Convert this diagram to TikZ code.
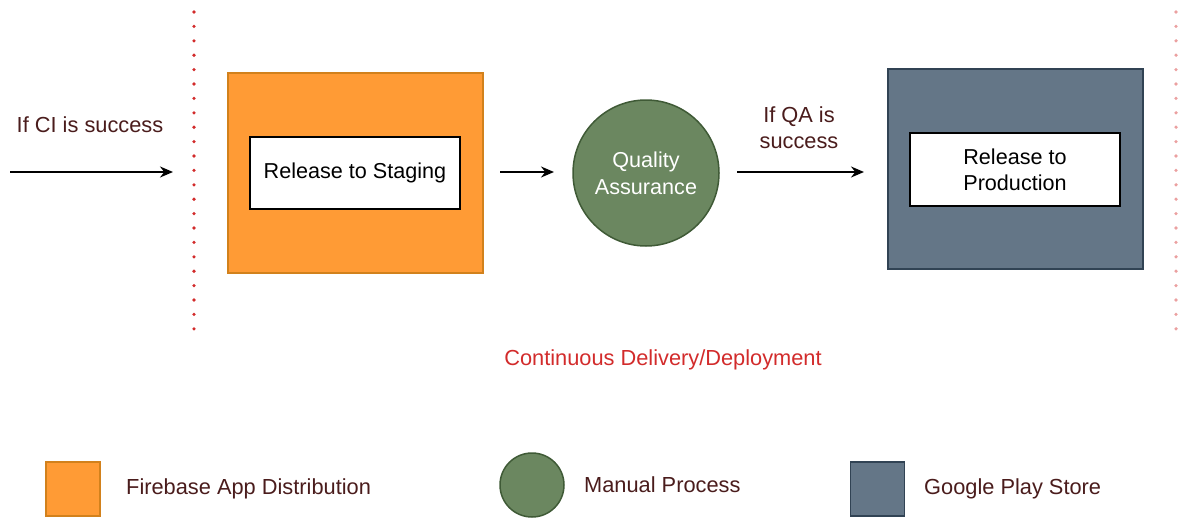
\documentclass[tikz,border=0pt]{standalone}
\usepackage{fontspec}
\setmainfont{Liberation Sans}
\usetikzlibrary{arrows.meta}
\definecolor{orfill}{HTML}{FF9B35}
\definecolor{ordraw}{HTML}{D2811C}
\definecolor{grfill}{HTML}{6B8760}
\definecolor{grdraw}{HTML}{3F5A36}
\definecolor{blfill}{HTML}{647687}
\definecolor{bldraw}{HTML}{314354}
\definecolor{lbl}{HTML}{4A1C1C}
\definecolor{sepred}{HTML}{D22B2B}
\begin{document}
\begin{tikzpicture}[x=1pt,y=-1pt,
  txt/.style={font=\fontsize{21.8}{26}\selectfont, text=lbl, align=center, inner sep=0pt},
  outerbox/.style={line width=1.5pt, inner sep=0pt},
  innerbox/.style={draw=black, fill=white, line width=2pt, inner sep=0pt, font=\fontsize{21.6}{26}\selectfont, align=center},
  arr/.style={-{Stealth[length=13pt,width=11pt]}, line width=1.6pt},
  sep/.style={line width=3.6pt, line cap=round, dash pattern=on 0pt off 14.4pt}]
\useasboundingbox (0,0) rectangle (1178,517);
% separators
\coordinate (s1a) at (194,12); \coordinate (s1b) at (194,335);
\coordinate (s2a) at (1176,12); \coordinate (s2b) at (1176,335);
\draw[sep, sepred] (s1a) -- (s1b);
\draw[sep, sepred!45] (s2a) -- (s2b);
% boxes
\node[outerbox, draw=ordraw, fill=orfill, minimum width=255pt, minimum height=200pt] (fb) at (355.5,173) {};
\node[innerbox, minimum width=210pt, minimum height=72pt] (stg) at (355,173) {Release to Staging};
\node[circle, draw=grdraw, fill=grfill, line width=1.5pt, minimum size=146pt, inner sep=0pt,
  font=\fontsize{21.6}{27}\selectfont, text=white, align=center] (qa) at (646,173) {Quality\\Assurance};
\node[outerbox, draw=bldraw, fill=blfill, minimum width=255pt, minimum height=200pt] (gp) at (1015.5,169) {};
\node[innerbox, minimum width=210pt, minimum height=73pt] (prd) at (1015,169.5) {Release to\\Production};
% arrows
\coordinate (a1s) at (10,172); \coordinate (a1e) at (173,172);
\draw[arr] (a1s) -- (a1e);
\node[txt] (l1) at (90,125) {If CI is success};
\coordinate (a2s) at (500,172); \coordinate (a2e) at (554,172);
\draw[arr] (a2s) -- (a2e);
\coordinate (a3s) at (737,172); \coordinate (a3e) at (864,172);
\draw[arr] (a3s) -- (a3e);
\node[txt] (l3) at (799,128) {If QA is\\success};
\node[txt, text=sepred] (cd) at (663,360) {Continuous Delivery/Deployment};
% legend
\node[draw=ordraw, fill=orfill, line width=1.5pt, minimum width=54pt, minimum height=54pt, inner sep=0pt] (lg1) at (73,489) {};
\node[txt, anchor=west] (lt1) at (126,489) {Firebase App Distribution};
\node[circle, draw=grdraw, fill=grfill, line width=1.5pt, minimum size=64pt, inner sep=0pt] (lg2) at (532,485) {};
\node[txt, anchor=west] (lt2) at (584,485) {Manual Process};
\node[draw=bldraw, fill=blfill, line width=1.5pt, minimum width=54pt, minimum height=54pt, inner sep=0pt] (lg3) at (877.5,489) {};
\node[txt, anchor=west] (lt3) at (924,489) {Google Play Store};
\end{tikzpicture}
\end{document}
